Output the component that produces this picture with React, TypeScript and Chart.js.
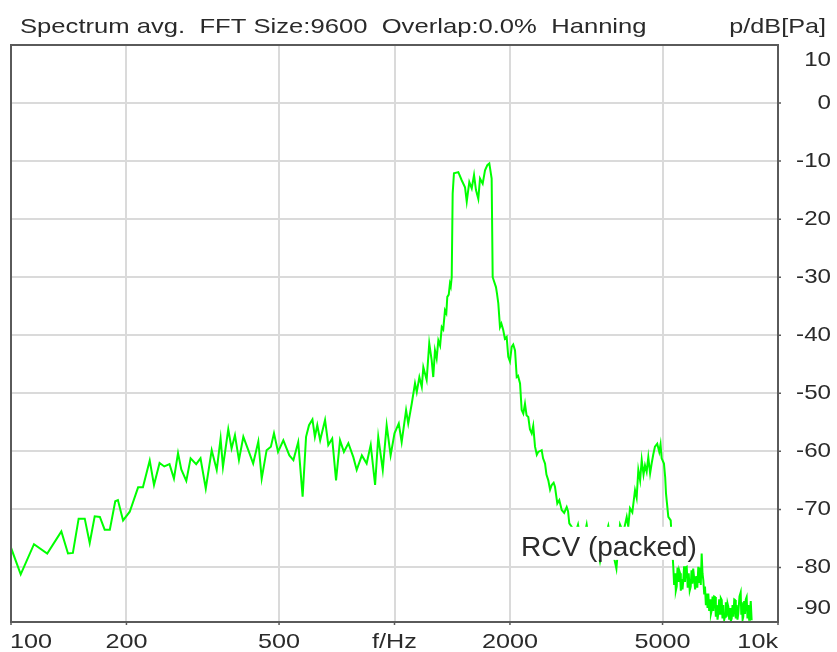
import React, { useEffect, useRef } from "react";
import { Chart, registerables } from "chart.js";

Chart.register(...registerables);

// Low band (100 Hz .. 1 kHz)
const lowHz = [
  100, 106, 114.8, 124.3, 135.3, 140.8, 145, 150.1, 155.7, 160.4, 165.3, 170.5, 175.5, 181, 187, 190, 196, 204,
  214.5, 220.8, 230, 236, 244, 251, 259, 266, 272.6, 278, 286.5, 294, 304, 312, 322, 333.7, 343.9, 352, 357,
  368.6, 376, 383.7, 393, 403.5, 415.7, 428, 441.5, 450.5, 464, 476, 485, 497, 513, 532, 545, 561, 576, 588,
  598.5, 611, 620, 629, 640, 659, 672, 688, 704, 721, 738, 758, 781, 797, 822, 846, 867, 890, 907, 932, 954,
  977, 1000,
];
const lowDb = [
  -76.6, -81.2, -76.0, -77.6, -73.8, -77.6, -77.5, -71.6, -71.6, -75.8, -71.2, -71.3, -73.5, -73.5, -68.6, -68.4, -71.9, -70.4,
  -66.2, -66.2, -61.6, -65.8, -62.0, -62.6, -62.2, -64.7, -60.3, -63.1, -65.1, -61.2, -62.2, -61.2, -66.4, -59.8, -63.2, -57.8, -62.7,
  -56.2, -59.5, -57.2, -61.5, -57.5, -59.8, -62.1, -58.3, -64.7, -59.8, -59.2, -56.9, -60.1, -58.1, -60.7, -61.5, -58.4, -67.8, -57.5,
  -55.5, -54.5, -57.5, -55.5, -58.1, -54.6, -58.9, -57.8, -65.0, -58.1, -60.1, -58.6, -61.0, -63.2, -60.7, -62.1, -58.9, -65.8, -57.5, -63.2, -55.5,
  -60.7, -56.9,
];

// Main band (1 kHz .. 2.9 kHz)
const peakHz = [
  1026, 1044, 1072, 1086, 1109, 1131, 1143, 1161, 1178, 1189,
  1213, 1232, 1250, 1262, 1275, 1288, 1301, 1315, 1328, 1340,
  1354, 1365, 1373, 1385, 1395, 1402, 1410, 1418, 1429, 1467,
  1497, 1527, 1543, 1567, 1590, 1612, 1631, 1654, 1671, 1698,
  1722, 1746, 1767, 1792, 1803, 1839, 1850, 1865, 1884, 1900,
  1921, 1940, 1961, 1980, 2000, 2021, 2040, 2062, 2083, 2100,
  2125, 2146, 2167, 2189, 2210, 2233, 2255, 2279, 2300, 2325,
  2350, 2371, 2420, 2440, 2469, 2490, 2518, 2545, 2570, 2600,
  2621, 2658, 2690, 2729, 2770, 2812, 2835, 2856, 2897,
];
const peakDb = [
  -55.2, -58.4, -52.9, -55.2, -51.8, -48.3, -49.8, -47.2, -48.9, -45.5,
  -47.7, -41.4, -44.3, -47.2, -42.6, -44.0, -40.9, -41.8, -38.6, -39.0,
  -35.7, -36.2, -33.4, -33.0, -31.1, -31.6, -30.0, -15.6, -12.1, -11.9,
  -13.3, -14.5, -17.0, -13.6, -14.7, -12.4, -15.0, -16.5, -13.0, -13.9,
  -11.6, -10.7, -10.4, -13.0, -30.0, -31.7, -32.8, -34.5, -38.6, -38.0,
  -39.1, -40.6, -40.3, -43.7, -44.5, -42.0, -41.6, -42.6, -47.2, -47.0,
  -48.3, -52.9, -53.5, -51.8, -53.8, -54.1, -56.2, -56.9, -55.6, -59.2,
  -60.6, -60.1, -59.8, -61.2, -62.1, -64.0, -65.0, -66.6, -65.8, -65.4,
  -66.1, -69.0, -68.4, -70.1, -70.6, -69.6, -70.3, -72.4, -73.0,
];

// Second hump (2.9 kHz .. 5.3 kHz)
const humpHz = [
  2950, 3010, 3080, 3170, 3250, 3340, 3435, 3520, 3610, 3700, 3790, 3873, 3950, 4032, 4070, 4112, 4170, 4238,
  4280, 4323, 4370, 4412, 4460, 4500, 4545, 4590, 4640, 4683, 4730, 4777, 4843, 4902, 4940, 4973, 5042, 5080,
  5105, 5176, 5251,
];
const humpDb = [
  -74.5, -72.6, -76.5, -72.6, -77.5, -75.0, -79.0, -75.5, -72.8, -77.0, -80.2, -72.6, -74.0, -71.3, -73.0, -69.8, -70.5, -66.7,
  -68.0, -63.2, -65.0, -61.5, -64.0, -62.4, -63.5, -61.0, -63.8, -62.1, -60.5, -59.2, -58.7, -60.1, -58.8, -61.2, -62.1, -64.5,
  -67.3, -71.3, -71.9,
];

// Upper band (5.3 kHz .. 8.5 kHz)
const topHz = [
  5290, 5333, 5360, 5390, 5415, 5443, 5470, 5500, 5525, 5553, 5580, 5610, 5637, 5664, 5690, 5720, 5750, 5781,
  5815, 5850, 5885, 5921, 5950, 5980, 6010, 6039, 6080, 6120, 6160, 6197, 6230, 6260, 6290, 6324, 6355, 6386,
  6420, 6451, 6485, 6520, 6550, 6581, 6615, 6650, 6685, 6716, 6750, 6780, 6815, 6851, 6885, 6920, 6955, 6988,
  7025, 7060, 7095, 7133, 7165, 7200, 7240, 7276, 7310, 7350, 7385, 7422, 7460, 7500, 7535, 7573, 7610, 7650,
  7690, 7725, 7760, 7800, 7840, 7880, 7935, 7993, 8020, 8050, 8085, 8118, 8160, 8200, 8240, 8284, 8325, 8370,
  8410, 8450, 8490, 8537,
];
const topDb = [
  -76.0, -79.9, -83.0, -81.0, -84.0, -83.3, -80.0, -82.5, -80.5, -81.0, -84.0, -82.0, -83.8, -82.2, -79.8, -82.5, -80.0, -79.9,
  -83.5, -81.0, -84.0, -83.3, -80.5, -82.8, -80.2, -81.6, -83.8, -81.5, -83.5, -79.9, -82.5, -80.0, -83.0, -77.6, -81.0, -82.2,
  -84.5, -83.3, -86.5, -84.5, -87.0, -84.5, -87.5, -85.5, -88.0, -87.4, -85.0, -87.5, -85.0, -85.1, -88.5, -86.5, -89.0, -87.9,
  -85.5, -88.0, -85.3, -85.6, -88.8, -86.5, -89.0, -88.5, -86.0, -88.5, -86.2, -86.8, -89.0, -87.0, -89.2, -88.8, -86.5, -88.5,
  -85.5, -85.6, -88.8, -86.5, -89.0, -87.9, -85.0, -84.3, -88.0, -86.0, -89.0, -88.5, -85.8, -88.0, -85.5, -85.1, -88.8, -86.5,
  -89.0, -87.9, -85.8, -89.1,
];

const xTickValues = [100, 200, 500, 1000, 2000, 5000, 10000];
const xTickLabels = ["100", "200", "500", "f/Hz", "2000", "5000", "10k"];
const yTickValues = [10, 0, -10, -20, -30, -40, -50, -60, -70, -80, -90];
const yGridValues = [0, -10, -20, -30, -40, -50, -60, -70, -80];

const titleText = "Spectrum avg.  FFT Size:9600  Overlap:0.0%  Hanning";
const unitText = "p/dB[Pa]";
const noteText = "RCV (packed)";

const FONT = '"Liberation Sans", Arial, sans-serif';
const TEXT_COLOR = "#2a2a2a";

function drawText(
  ctx: CanvasRenderingContext2D,
  text: string,
  x: number,
  y: number,
  align: CanvasTextAlign,
  baseline: CanvasTextBaseline,
  size: number,
  sx: number
) {
  ctx.save();
  ctx.translate(x, y);
  ctx.scale(sx, 1);
  ctx.font = `${size}px ${FONT}`;
  ctx.fillStyle = TEXT_COLOR;
  ctx.textAlign = align;
  ctx.textBaseline = baseline;
  ctx.fillText(text, 0, 0);
  ctx.restore();
}

export default function App() {
  const ref = useRef<HTMLCanvasElement | null>(null);

  useEffect(() => {
    document.body.style.margin = "0";
    const canvas = ref.current;
    if (!canvas) return;

    const allHz = [...lowHz, ...peakHz, ...humpHz, ...topHz];
    const allDb = [...lowDb, ...peakDb, ...humpDb, ...topDb];
    const points = allHz.map((f, i) => ({ x: f, y: allDb[i] }));

    const decor = {
      id: "decor",
      beforeDraw(chart: any) {
        const c = chart.ctx as CanvasRenderingContext2D;
        c.save();
        c.fillStyle = "#ffffff";
        c.fillRect(0, 0, chart.width, chart.height);
        c.restore();
      },
      afterDatasetsDraw(chart: any) {
        const c = chart.ctx as CanvasRenderingContext2D;
        const xs = chart.scales.x;
        const ys = chart.scales.y;
        const x0 = xs.getPixelForValue(2090);
        const x1 = xs.getPixelForValue(6190);
        const yTop = ys.getPixelForValue(-73.0);
        const yBot = ys.getPixelForValue(-78.7);
        c.save();
        c.fillStyle = "#ffffff";
        c.fillRect(x0, yTop, x1 - x0, yBot - yTop);
        c.restore();
        drawText(c, noteText, xs.getPixelForValue(2138), ys.getPixelForValue(-78.05), "left", "alphabetic", 28, 1);
      },
      afterDraw(chart: any) {
        const c = chart.ctx as CanvasRenderingContext2D;
        const a = chart.chartArea;
        const xs = chart.scales.x;
        const ys = chart.scales.y;

        c.save();
        c.strokeStyle = "#5a5a5a";
        c.lineWidth = 2;
        c.strokeRect(a.left, a.top, a.right - a.left, a.bottom - a.top);
        c.lineWidth = 1.5;
        c.beginPath();
        xTickValues.forEach((v) => {
          const px = xs.getPixelForValue(v);
          c.moveTo(px, a.bottom);
          c.lineTo(px, a.bottom + 3);
        });
        yGridValues.forEach((v) => {
          const py = ys.getPixelForValue(v);
          c.moveTo(a.right, py);
          c.lineTo(a.right + 3, py);
        });
        c.stroke();
        c.restore();

        drawText(c, titleText, 20, 33, "left", "alphabetic", 21, 1.22);
        drawText(c, unitText, 826, 33, "right", "alphabetic", 21, 1.2);

        xTickValues.forEach((v, i) => {
          const px = xs.getPixelForValue(v);
          let align: CanvasTextAlign = "center";
          let x = px;
          if (i === 0) {
            align = "left";
            x = px - 1;
          } else if (i === xTickValues.length - 1) {
            align = "right";
          }
          drawText(c, xTickLabels[i], x, 648, align, "alphabetic", 21, 1.2);
        });

        yTickValues.forEach((v) => {
          let py = ys.getPixelForValue(v);
          py = Math.max(a.top + 15.5, Math.min(a.bottom - 13.5, py));
          drawText(c, String(v), 831, py, "right", "middle", 21, 1.15);
        });
      },
    };

    const chart = new Chart(canvas, {
      type: "line",
      data: {
        datasets: [
          {
            data: points,
            borderColor: "#00ff00",
            borderWidth: 2,
            pointRadius: 0,
            tension: 0,
            fill: false,
          },
        ],
      },
      options: {
        responsive: false,
        animation: false,
        plugins: { legend: { display: false }, tooltip: { enabled: false }, title: { display: false } },
        layout: { padding: { left: 11, top: 45, right: 59, bottom: 30 } },
        scales: {
          x: {
            type: "logarithmic",
            min: 100,
            max: 10000,
            afterBuildTicks: (s: any) => {
              s.ticks = xTickValues.map((v) => ({ value: v }));
            },
            ticks: { display: false },
            grid: { color: "#dadada", lineWidth: 2, drawTicks: false },
            border: { display: false },
          },
          y: {
            type: "linear",
            position: "right",
            min: -89.4,
            max: 10,
            afterBuildTicks: (s: any) => {
              s.ticks = yGridValues.map((v) => ({ value: v }));
            },
            ticks: { display: false },
            grid: { color: "#dadada", lineWidth: 2, drawTicks: false },
            border: { display: false },
          },
        },
      } as any,
      plugins: [decor],
    });

    return () => chart.destroy();
  }, []);

  return <canvas ref={ref} width={837} height={652} style={{ display: "block" }} />;
}
